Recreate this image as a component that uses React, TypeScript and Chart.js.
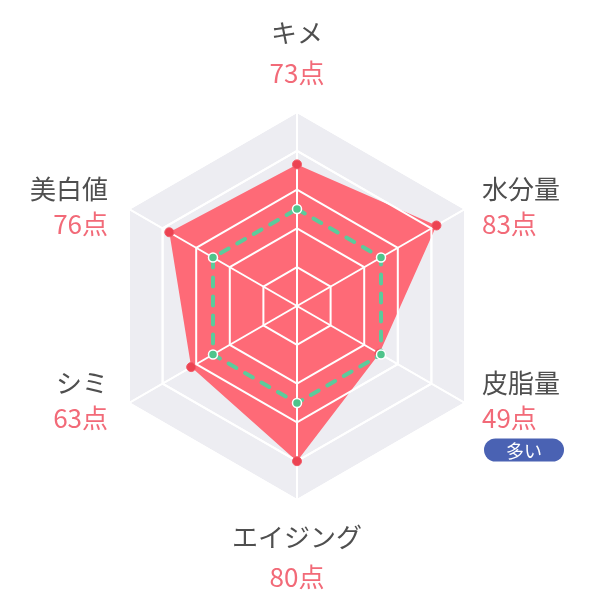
import React, { useRef, useEffect } from "react";
import { Chart, registerables, Plugin } from "chart.js";

Chart.register(...registerables);

// 項目名とスコア
const labels = ["キメ", "水分量", "皮脂量", "エイジング", "シミ", "美白値"];
const skinScores = [73, 83, 49, 80, 63, 76];
const averageScores = [50, 50, 50, 50, 50, 50];
const badges = ["", "", "多い", "", "", ""];

const FONT = '"Noto Sans CJK JP", "Noto Sans", sans-serif';

// 赤い塗りの上にグリッドを描き直す（点より下）
const gridOverFill: Plugin<"radar"> = {
  id: "gridOverFill",
  afterDatasetDraw(chart, args) {
    if (args.index !== 2) return;
    const scale: any = chart.scales.r;
    scale.drawGrid(chart.chartArea);
  },
};

// 2色のラベルとバッジ
const pointLabelPlugin: Plugin<"radar"> = {
  id: "pointLabelPlugin",
  afterDraw(chart) {
    const scale: any = chart.scales.r;
    const ctx = chart.ctx;
    ctx.save();
    labels.forEach((name, i) => {
      const v = scale.getPointPosition(i, scale.drawingArea);
      const cos = Math.cos(v.angle);
      const sin = Math.sin(v.angle);
      let x = v.x;
      let align: CanvasTextAlign = "center";
      let nameY: number;
      let scoreY: number;
      if (Math.abs(cos) < 0.01) {
        if (sin < 0) {
          scoreY = v.y - 39;
          nameY = v.y - 79;
        } else {
          nameY = v.y + 37;
          scoreY = v.y + 77;
        }
      } else {
        align = cos > 0 ? "left" : "right";
        x = v.x + (cos > 0 ? 17 : -21);
        nameY = v.y - 20;
        scoreY = v.y + 15;
      }
      ctx.textAlign = align;
      ctx.textBaseline = "middle";
      ctx.font = `26px ${FONT}`;
      ctx.fillStyle = "#4f4f4f";
      ctx.fillText(name, x, nameY);
      ctx.fillStyle = "#f26a78";
      ctx.fillText(`${skinScores[i]}点`, x, scoreY);

      if (badges[i]) {
        const bw = 80;
        const bh = 23;
        const bx = align === "left" ? x + 2 : align === "right" ? x - bw : x - bw / 2;
        const by = scoreY + 32 - bh / 2;
        ctx.fillStyle = "#4a62b3";
        ctx.beginPath();
        ctx.roundRect(bx, by, bw, bh, bh / 2);
        ctx.fill();
        ctx.fillStyle = "#ffffff";
        ctx.textAlign = "center";
        ctx.font = `18px ${FONT}`;
        ctx.fillText(badges[i], bx + bw / 2, by + bh / 2 + 1);
      }
    });
    ctx.restore();
  },
};

const SkinRadarChart: React.FC = () => {
  const chartRef = useRef<HTMLCanvasElement>(null);
  const chartInstance = useRef<Chart | null>(null);

  useEffect(() => {
    if (!chartRef.current) return;
    if (chartInstance.current) chartInstance.current.destroy();
    const ctx = chartRef.current.getContext("2d");
    if (!ctx) return;

    chartInstance.current = new Chart(ctx, {
      type: "radar",
      data: {
        labels,
        datasets: [
          {
            label: "平均",
            data: averageScores,
            fill: false,
            borderColor: "#5bcb9b",
            borderWidth: 4,
            borderDash: [9, 10],
            borderCapStyle: "round",
            pointRadius: 4.5,
            pointBackgroundColor: "#4fc48b",
            pointBorderColor: "#ffffff",
            pointBorderWidth: 1.5,
          },
          {
            label: "スコア点",
            data: skinScores,
            fill: false,
            showLine: false,
            backgroundColor: "transparent",
            pointRadius: 4.5,
            pointBackgroundColor: "#ec4352",
            pointBorderColor: "#f25a67",
            pointBorderWidth: 1,
          },
          {
            label: "スコア",
            data: skinScores,
            fill: true,
            backgroundColor: "#fe6a77",
            borderWidth: 0,
            pointRadius: 0,
          },
        ],
      },
      options: {
        responsive: true,
        maintainAspectRatio: false,
        animation: false,
        layout: { padding: { left: 103, right: 105, top: 112, bottom: 94 } },
        plugins: {
          legend: { display: false },
          tooltip: { enabled: false },
        },
        scales: {
          r: {
            min: 0,
            max: 100,
            backgroundColor: "#ededf2",
            ticks: { display: false, stepSize: 20 },
            grid: { color: "#ffffff", lineWidth: 2 },
            angleLines: { color: "#ffffff", lineWidth: 2 },
            pointLabels: { display: false },
          },
        },
      },
      plugins: [gridOverFill, pointLabelPlugin],
    });

    return () => {
      if (chartInstance.current) {
        chartInstance.current.destroy();
        chartInstance.current = null;
      }
    };
  }, []);

  return (
    <div style={{ position: "relative", width: 596, height: 594 }}>
      <style>{"body { margin: 0; }"}</style>
      <canvas ref={chartRef}></canvas>
    </div>
  );
};

export default function App() {
  return <SkinRadarChart />;
}
